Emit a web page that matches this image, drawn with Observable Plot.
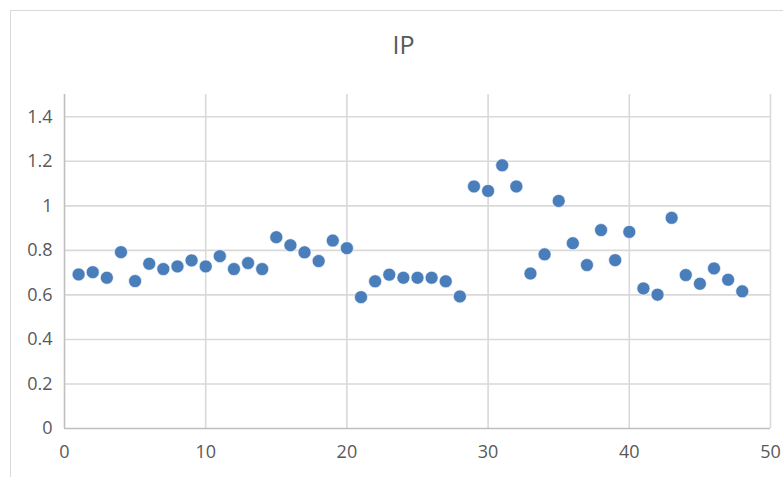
<!DOCTYPE html>
<html>
<head>
<meta charset="utf-8">
<script src="https://cdn.jsdelivr.net/npm/d3@7"></script>
<script src="https://cdn.jsdelivr.net/npm/@observablehq/plot@0.6"></script>
<style>
  html, body { margin: 0; padding: 0; background: #fff; overflow: hidden; width: 783px; height: 477px; }
  #frame { position: absolute; left: 10px; top: 10px; width: 820px; height: 520px; border: 1.5px solid #d9d9d9; box-sizing: border-box; }
  #chart { position: absolute; left: 0; top: 0; }
</style>
</head>
<body>
<div id="frame"></div>
<div id="chart"></div>
<script>
const title = "IP";
const xValues = [1,2,3,4,5,6,7,8,9,10,11,12,13,14,15,16,17,18,19,20,21,22,23,24,25,26,27,28,29,30,31,32,33,34,35,36,37,38,39,40,41,42,43,44,45,46,47,48];
const ipValues = [0.692,0.702,0.677,0.792,0.662,0.740,0.716,0.728,0.755,0.728,0.774,0.716,0.743,0.716,0.859,0.823,0.791,0.752,0.844,0.810,0.590,0.661,0.691,0.677,0.677,0.677,0.661,0.593,1.087,1.067,1.182,1.087,0.696,0.782,1.022,0.832,0.734,0.891,0.756,0.883,0.629,0.601,0.946,0.689,0.650,0.719,0.668,0.616];
const xTicks = [0,10,20,30,40,50];
const yTicks = [0,0.2,0.4,0.6,0.8,1,1.2,1.4];

const data = xValues.map((x, i) => ({x, y: ipValues[i]}));
const grid = "#d9d9d9";
const textColor = "#595959";

const chart = Plot.plot({
  width: 783,
  height: 477,
  marginLeft: 64,
  marginRight: 13,
  marginTop: 94,
  marginBottom: 49,
  style: {fontFamily: "'Open Sans', sans-serif", fontSize: "18px", color: textColor, background: "transparent"},
  x: {domain: [0, 50]},
  y: {domain: [0, 1.5]},
  marks: [
    Plot.gridY(yTicks.filter(d => d > 0), {stroke: grid, strokeOpacity: 1, strokeWidth: 1.6}),
    Plot.gridX(xTicks.filter(d => d > 0), {stroke: grid, strokeOpacity: 1, strokeWidth: 1.6}),
    Plot.ruleX([0], {stroke: "#bfbfbf", strokeWidth: 1.6}),
    Plot.ruleY([0], {stroke: "#bfbfbf", strokeWidth: 1.6}),
    Plot.axisY(yTicks, {tickSize: 0, tickPadding: 12, label: null, fill: textColor, fontSize: 18, tickFormat: d => String(+d.toFixed(1))}),
    Plot.axisX(xTicks, {tickSize: 0, tickPadding: 17, label: null, fill: textColor, fontSize: 18, tickFormat: d => String(d)}),
    Plot.dot(data, {x: "x", y: "y", r: 6.5, fill: "#4a7ebb", stroke: "#ffffff", strokeWidth: 0.6}),
    Plot.text([title], {frameAnchor: "top", dx: -14, dy: -49, text: d => d, fontSize: 25, fill: textColor, lineAnchor: "middle"})
  ]
});
document.getElementById("chart").appendChild(chart);
</script>
</body>
</html>
